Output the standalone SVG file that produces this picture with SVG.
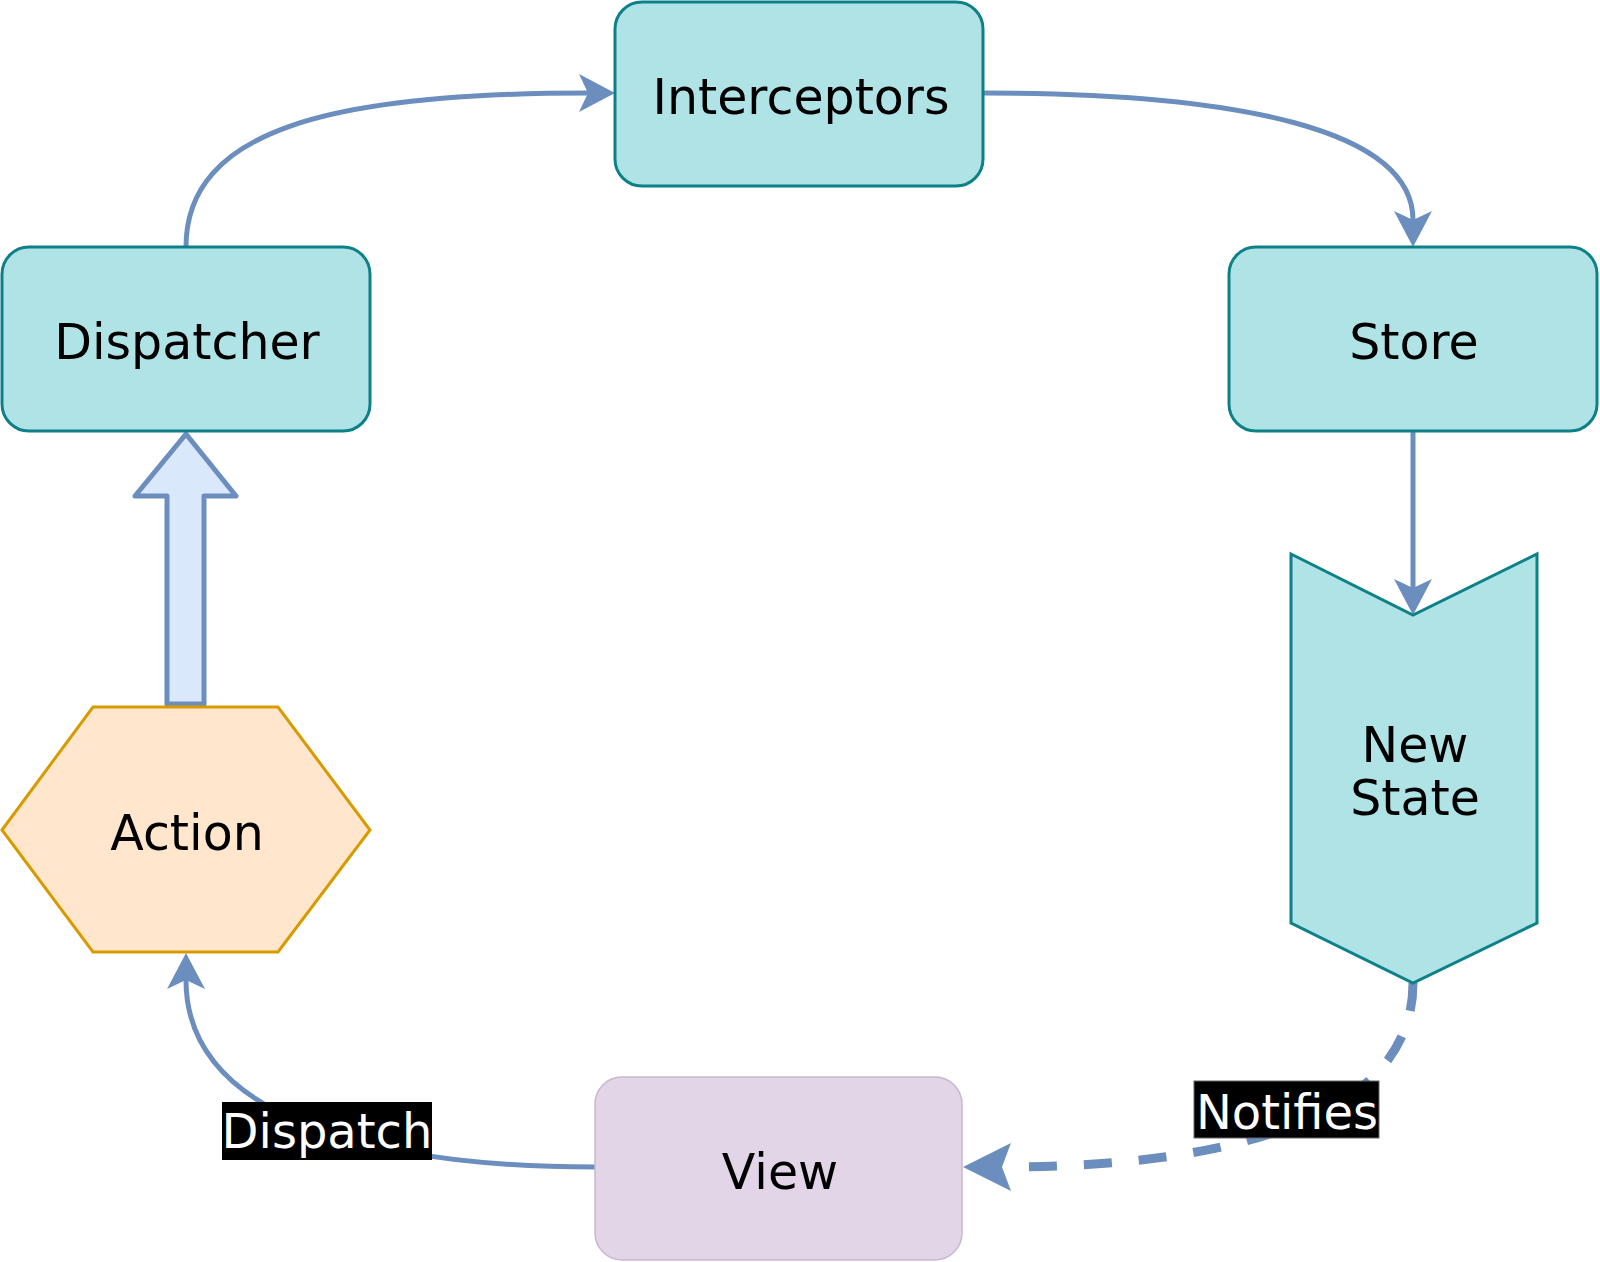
<svg xmlns="http://www.w3.org/2000/svg" width="1600" height="1262" viewBox="0 0 1600 1262">
<style>
.teal{fill:#b0e3e6;stroke:#0e8088;stroke-width:3}
.lbl{font-family:"DejaVu Sans",Verdana,sans-serif;font-size:49px;fill:#000;text-anchor:middle}
.wlbl{font-family:"DejaVu Sans",Verdana,sans-serif;font-size:48px;fill:#fff;text-anchor:middle}
.edge{fill:none;stroke:#6c8ebf;stroke-width:5}
.dashed{fill:none;stroke:#6c8ebf;stroke-width:9;stroke-dasharray:28 27}
</style>
<defs>
<marker id="arr" markerUnits="userSpaceOnUse" markerWidth="40" markerHeight="40" viewBox="0 -20 40 40" refX="9" refY="0" orient="auto" overflow="visible">
<path d="M0,-19 L36,0 L0,19 L9,0 Z" fill="#6c8ebf"/>
</marker>
<marker id="arrBig" markerUnits="userSpaceOnUse" markerWidth="50" markerHeight="50" viewBox="0 -25 50 50" refX="9" refY="0" orient="auto" overflow="visible">
<path d="M0,-24 L48,0 L0,24 L9,0 Z" fill="#6c8ebf"/>
</marker>
</defs>
<rect width="1600" height="1262" fill="#fff"/>
<g id="connectors">
<path class="edge" d="M186,247 C186,130 330,93 588,93" marker-end="url(#arr)"/>
<path class="edge" d="M984,93 C1240,93 1413,130 1413,220" marker-end="url(#arr)"/>
<path class="edge" d="M1413,431 L1413,588" marker-end="url(#arr)"/>
<path class="dashed" d="M1413,983 C1413,1110 1250,1167 1002,1167" marker-end="url(#arrBig)"/>
<path class="edge" d="M595,1167 C380,1167 186,1120 186,980" marker-end="url(#arr)"/>
<path d="M186,434 L236,496 L204,496 L204,704 L167,704 L167,496 L135,496 Z" fill="#dae8fc" stroke="#6c8ebf" stroke-width="5" stroke-linejoin="round"/>
<g id="label-notifies">
<rect x="1194" y="1081" width="185" height="57" fill="#000" stroke="#666" stroke-width="1"/>
<text class="wlbl" x="1287" y="1129">Notifies</text>
</g>
<g id="label-dispatch">
<rect x="222" y="1102" width="210" height="58" fill="#000"/>
<text class="wlbl" x="327" y="1148">Dispatch</text>
</g>
</g>
<g id="node-interceptors">
<rect class="teal" x="615" y="2" width="368" height="184" rx="27" ry="27"/>
<text class="lbl" x="801" y="114">Interceptors</text>
</g>
<g id="node-dispatcher">
<rect class="teal" x="2" y="247" width="368" height="184" rx="27" ry="27"/>
<text class="lbl" x="187" y="359">Dispatcher</text>
</g>
<g id="node-store">
<rect class="teal" x="1229" y="247" width="368" height="184" rx="27" ry="27"/>
<text class="lbl" x="1414" y="359">Store</text>
</g>
<g id="node-newstate">
<path class="teal" d="M1291,554 L1413,615 L1537,554 L1537,923 L1413,983 L1291,923 Z"/>
<text class="lbl" x="1415" y="762">New</text>
<text class="lbl" x="1415" y="815">State</text>
</g>
<g id="node-action">
<path d="M2,830 L93,707 L278,707 L370,830 L278,952 L93,952 Z" fill="#ffe6cc" stroke="#d79b00" stroke-width="3"/>
<text class="lbl" x="187" y="850">Action</text>
</g>
<g id="node-view">
<rect x="595" y="1077" width="367" height="183" rx="27" ry="27" fill="#e1d5e7" stroke="#c7b8cf" stroke-width="1.5"/>
<text class="lbl" x="780" y="1189">View</text>
</g>
</svg>
